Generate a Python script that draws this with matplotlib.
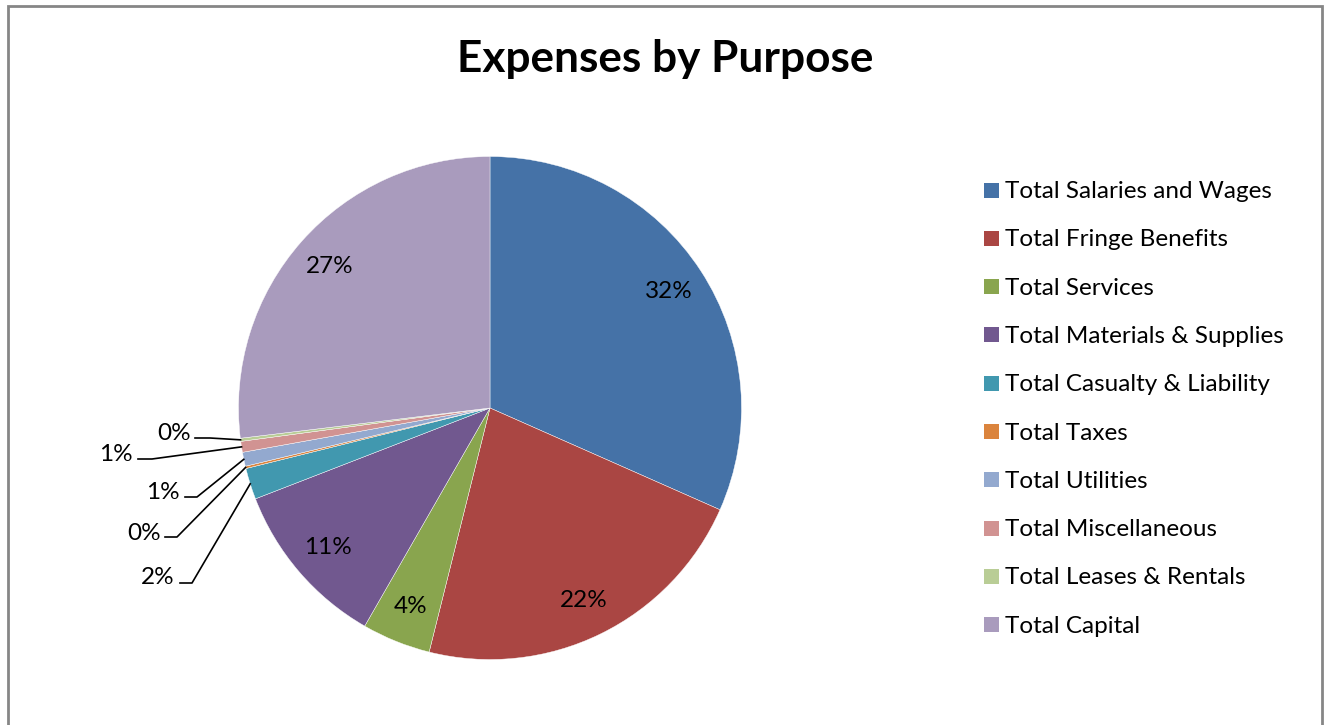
import matplotlib
matplotlib.use("Agg")
import matplotlib.pyplot as plt
from matplotlib.patches import Rectangle
import numpy as np

# ---------------- data ----------------
categories = ["Total Salaries and Wages", "Total Fringe Benefits", "Total Services",
              "Total Materials & Supplies", "Total Casualty & Liability", "Total Taxes",
              "Total Utilities", "Total Miscellaneous", "Total Leases & Rentals",
              "Total Capital"]
shares = [31.63, 22.26, 4.41, 10.82, 2.01, 0.15, 0.90, 0.70, 0.20, 26.92]
colors = ["#4572A7", "#AA4643", "#89A54E", "#71588F", "#4198AF", "#DB843D",
          "#93A9CF", "#D19392", "#B9CD96", "#A99BBD"]
title = "Expenses by Purpose"

# ---------------- layout (pixels) ----------------
W, H = 1328, 725
CX, CY, R = 490, 408, 251.5
FONT = "Lato"
FS = 17.5
# outside labels: index -> (text right x, text center y, leader start x, elbow x, leader y)
outside = {
    8: (191, 432, 195, 210, 438),
    7: (133, 453, 138, 152, 459),
    6: (180, 491, 185, 197, 497),
    5: (161, 532, 165, 177, 537),
    4: (174, 576, 180, 192, 583),
}

fig = plt.figure(figsize=(W / 100, H / 100), dpi=100)
fig.patch.set_facecolor("white")

# overlay axes in pixel coordinates
ov = fig.add_axes([0, 0, 1, 1])
ov.set_xlim(0, W)
ov.set_ylim(H, 0)
ov.axis("off")
ov.set_zorder(2)
ov.patch.set_alpha(0)

# border
ov.plot([7.5, 7.5, 1321.5, 1321.5], [H + 5, 5.5, 5.5, H + 5], color="#868686", lw=2,
        solid_joinstyle="miter", clip_on=False)

# title
ov.text(665, 59, title, ha="center", va="center", fontsize=31.8, fontweight="bold",
        family=FONT, color="black")

# pie axes
pax = fig.add_axes([(CX - R) / W, (H - CY - R) / H, 2 * R / W, 2 * R / H])
wedges, _ = pax.pie(shares, colors=colors, startangle=90, counterclock=False,
                    radius=1, wedgeprops=dict(edgecolor="white", linewidth=0.3))
pax.set_xlim(-1, 1)
pax.set_ylim(-1, 1)
pax.set_aspect("auto")
pax.axis("off")

total = sum(shares)
for i, (w, v) in enumerate(zip(wedges, shares)):
    pct = f"{int(round(v / total * 100))}%"
    mid = np.deg2rad((w.theta1 + w.theta2) / 2)
    if i in outside:
        tx, ty, lx, ex, ly = outside[i]
        px = CX + R * np.cos(mid)
        py = CY - R * np.sin(mid)
        ov.plot([lx, ex, px], [ly, ly, py], color="black", lw=1.2, clip_on=False)
        ov.text(tx, ty + 1, pct, ha="right", va="center", fontsize=FS, family=FONT)
    else:
        r = 0.85
        pax.text(r * np.cos(mid), r * np.sin(mid), pct, ha="center", va="center",
                 fontsize=FS, family=FONT, color="black")

# legend (manual)
for i, (cat, c) in enumerate(zip(categories, colors)):
    y = 190 + 48.3 * i
    ov.add_patch(Rectangle((984, y - 7.5), 15, 15, facecolor=c, edgecolor="none"))
    ov.text(1005, y + 1.5, cat, ha="left", va="center", fontsize=FS, family=FONT)

fig.savefig("out.png", dpi=100)
